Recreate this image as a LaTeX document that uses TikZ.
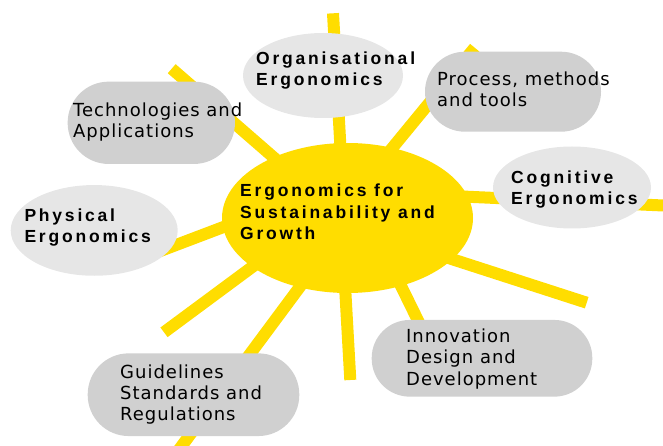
\documentclass[tikz,border=0pt]{standalone}
\usepackage{fontspec}
\setmainfont{DejaVu Sans}[LetterSpace=5.5]
\newfontfamily\headfont{Liberation Sans}[LetterSpace=16]
\usetikzlibrary{shapes.geometric}
\definecolor{sunyellow}{RGB}{255,221,0}
\definecolor{lightgrey}{RGB}{230,230,230}
\definecolor{midgrey}{RGB}{208,208,208}

\begin{document}
\begin{tikzpicture}[x=1pt,y=-1pt,
    ray/.style={draw=sunyellow,line width=12pt},
    oval/.style={ellipse,fill=lightgrey,inner sep=0pt},
    pill/.style={rectangle,fill=midgrey,inner sep=0pt},
    plain/.style={anchor=base west,align=left,inner sep=0pt,font=\fontsize{18}{21.3}\selectfont},
    heavy/.style={anchor=base west,align=left,inner sep=0pt,font=\headfont\bfseries\fontsize{17.5}{21.5}\selectfont}]
    \useasboundingbox (0,0) rectangle (663,446);
    \clip (0,0) rectangle (663,446);
    \coordinate (ray1_in) at (343.4,200);
    \coordinate (ray1_out) at (333,13.3);
    \coordinate (ray2_in) at (368.9,176.4);
    \coordinate (ray2_out) at (474.7,47.7);
    \coordinate (ray3_in) at (440,195.5);
    \coordinate (ray3_out) at (670,205.8);
    \coordinate (ray4_in) at (420,248.8);
    \coordinate (ray4_out) at (586.7,302.7);
    \coordinate (ray5_in) at (383.4,250);
    \coordinate (ray5_out) at (430,345);
    \coordinate (ray6_in) at (343,250);
    \coordinate (ray6_out) at (350.3,380);
    \coordinate (ray7_in) at (319.8,260);
    \coordinate (ray7_out) at (175,455);
    \coordinate (ray8_in) at (275.4,249.8);
    \coordinate (ray8_out) at (164,332.3);
    \coordinate (ray9_in) at (263.3,211.9);
    \coordinate (ray9_out) at (126,264);
    \coordinate (ray10_in) at (295,176);
    \coordinate (ray10_out) at (171.7,68.7);
    \draw [ray] (ray1_in) -- (ray1_out);
    \draw [ray] (ray2_in) -- (ray2_out);
    \draw [ray] (ray3_in) -- (ray3_out);
    \draw [ray] (ray4_in) -- (ray4_out);
    \draw [ray] (ray5_in) -- (ray5_out);
    \draw [ray] (ray6_in) -- (ray6_out);
    \draw [ray] (ray7_in) -- (ray7_out);
    \draw [ray] (ray8_in) -- (ray8_out);
    \draw [ray] (ray9_in) -- (ray9_out);
    \draw [ray] (ray10_in) -- (ray10_out);
    \node (hub) [ellipse,fill=sunyellow,inner sep=0pt,minimum width=251pt,minimum height=150pt] at (347.5,218) {};
    \node (org_erg) [oval,minimum width=160pt,minimum height=85pt] at (323,75.5) {};
    \node (cog_erg) [oval,minimum width=158pt,minimum height=82pt] at (572,187.5) {};
    \node (phys_erg) [oval,minimum width=167pt,minimum height=90.7pt] at (94.2,230.4) {};
    \node (proc_tools) [pill,rounded corners=40pt,minimum width=176pt,minimum height=80pt] at (513,91.7) {};
    \node (tech_apps) [pill,rounded corners=41pt,minimum width=167.3pt,minimum height=82.3pt] at (151.3,122.8) {};
    \node (innov_dev) [pill,rounded corners=38pt,minimum width=220.6pt,minimum height=76.7pt] at (482,358.3) {};
    \node (guide_regs) [pill,rounded corners=41pt,minimum width=211.6pt,minimum height=82.7pt] at (193.5,394.7) {};
    \node (hub_text) [heavy] at (240,240) {Ergonomics for\\Sustainability and\\Growth};
    \node (org_text) [heavy] at (256,86) {Organisational\\Ergonomics};
    \node (cog_text) [heavy] at (511,205) {Cognitive\\Ergonomics};
    \node (phys_text) [heavy] at (24.3,242.7) {Physical\\Ergonomics};
    \node (proc_text) [plain] at (437,107) {Process, methods\\and tools};
    \node (tech_text) [plain] at (73,137.5) {Technologies and\\Applications};
    \node (innov_text) [plain] at (406,385) {Innovation\\Design and\\Development};
    \node (guide_text) [plain] at (120,420.7) {Guidelines\\Standards and\\Regulations};
\end{tikzpicture}
\end{document}
